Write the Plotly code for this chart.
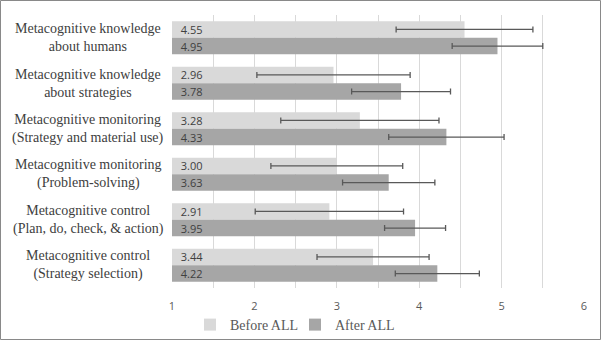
import plotly.graph_objects as go

categories = [
    "Metacognitive knowledge<br>about humans",
    "Metacognitive knowledge<br>about strategies",
    "Metacognitive monitoring<br>(Strategy and material use)",
    "Metacognitive monitoring<br>(Problem-solving)",
    "Metacognitive control<br>(Plan, do, check, & action)",
    "Metacognitive control<br>(Strategy selection)",
]
before_vals = [4.55, 2.96, 3.28, 3.00, 2.91, 3.44]
after_vals = [4.95, 3.78, 4.33, 3.63, 3.95, 4.22]
before_err = [0.83, 0.93, 0.96, 0.80, 0.90, 0.68]
after_err = [0.55, 0.60, 0.70, 0.56, 0.37, 0.51]
x_ticks = [1, 2, 3, 4, 5, 6]
axis_min = 1

W, H = 602, 341
L, R, T, B = 172, 18, 15, 53
pw, ph = W - L - R, H - T - B

label_font = dict(family="Liberation Serif", size=14, color="#404040")
err_style = dict(type="data", symmetric=True, color="#595959", thickness=1.3, width=3)


def bar_trace(name, vals, errs, color):
    return go.Bar(
        name=name, y=categories, x=[v - axis_min for v in vals], base=axis_min,
        orientation="h",
        marker=dict(color=color, line=dict(width=0)),
        error_x=dict(array=errs, **err_style),
        text=[f"\u00a0\u00a0{v:.2f}" for v in vals], texttemplate="%{text}",
        textposition="inside", insidetextanchor="start",
        textfont=dict(family="Open Sans", size=11, color="#404040"),
        constraintext="none",
    )


fig = go.Figure()
fig.add_trace(bar_trace("Before ALL", before_vals, before_err, "#D9D9D9"))
fig.add_trace(bar_trace("After ALL", after_vals, after_err, "#A6A6A6"))

for c in categories:
    fig.add_annotation(
        x=(88 - L) / pw, xref="paper", y=c, yref="y", text=c,
        showarrow=False, xanchor="center", yanchor="middle", align="center",
        font=label_font,
    )

fig.add_shape(
    type="rect", xref="paper", yref="paper",
    x0=(0.5 - L) / pw, x1=(600.5 - L) / pw,
    y0=(T + ph - 339.5) / ph, y1=(T + ph - 0.5) / ph,
    line=dict(color="#898989", width=1), fillcolor="rgba(0,0,0,0)",
)

fig.update_layout(
    width=W, height=H,
    margin=dict(l=L, r=R, t=T, b=B, autoexpand=False),
    paper_bgcolor="white", plot_bgcolor="white",
    barmode="group", bargap=0.27, bargroupgap=0,
    showlegend=True,
    legend=dict(
        orientation="h", xref="paper", yref="paper",
        x=(295 - L) / pw, xanchor="center", y=(T + ph - 325) / ph, yanchor="middle",
        font=dict(family="Liberation Serif", size=14, color="#595959"),
        itemwidth=30, tracegroupgap=0, bgcolor="rgba(0,0,0,0)",
        entrywidth=60,
    ),
    xaxis=dict(
        range=[1, 6], tickvals=x_ticks, ticktext=[str(t) for t in x_ticks],
        showgrid=True, gridcolor="#D9D9D9", gridwidth=1,
        minor=dict(dtick=0.5, showgrid=True, gridcolor="#D9D9D9", gridwidth=1),
        zeroline=False, showline=False,
        ticks="outside", ticklen=8, tickcolor="rgba(0,0,0,0)",
        tickfont=dict(family="Open Sans", size=11, color="#595959"),
        fixedrange=True,
    ),
    yaxis=dict(
        categoryorder="array", categoryarray=categories,
        autorange="reversed", showticklabels=False, showgrid=False,
        zeroline=False, showline=False, ticks="",
    ),
)

fig.write_html("out.html")
